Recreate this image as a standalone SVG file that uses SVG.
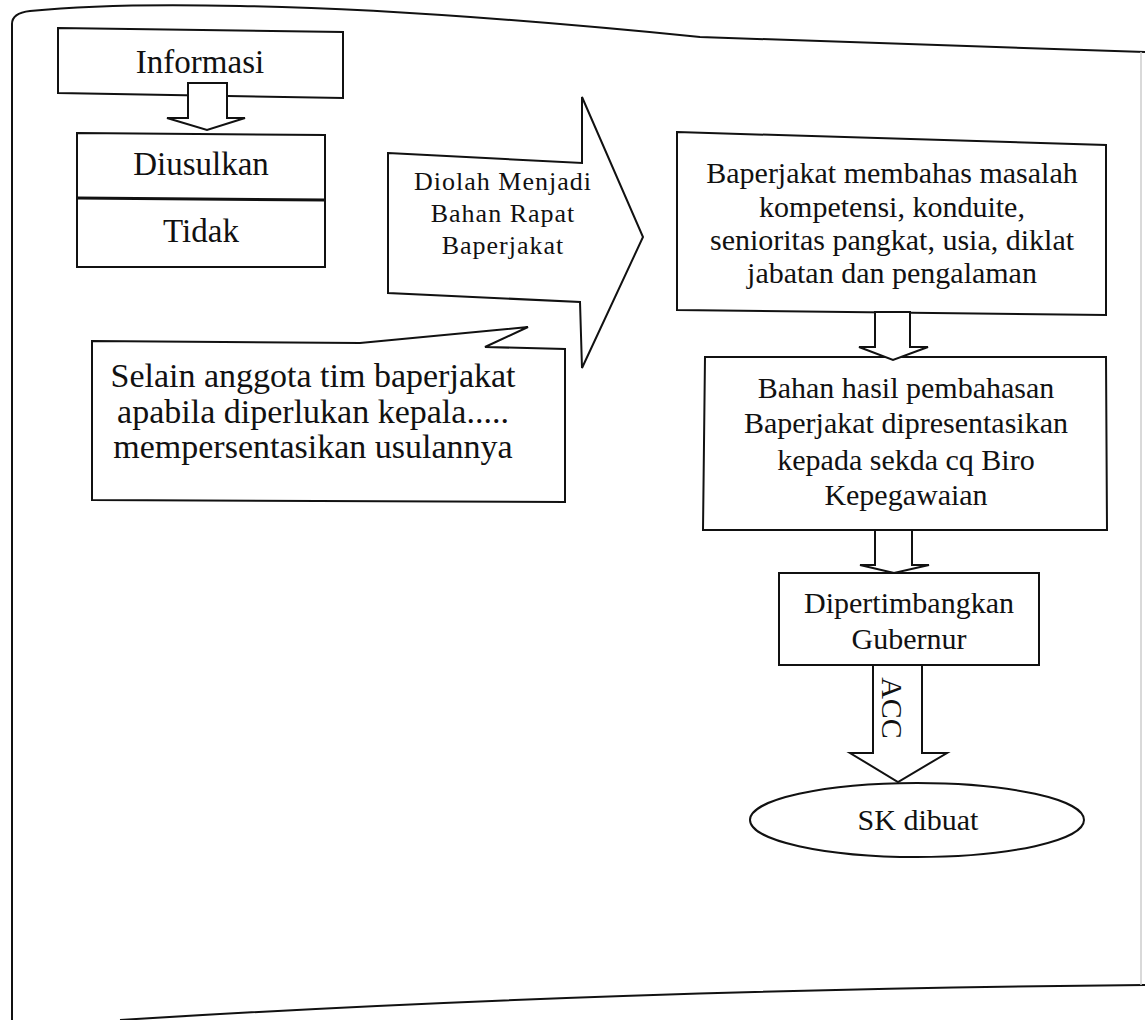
<svg xmlns="http://www.w3.org/2000/svg" width="1145" height="1020" viewBox="0 0 1145 1020">
<style>
.s{fill:#fff;stroke:#111;stroke-width:2;stroke-linejoin:miter}
.t{font-family:"Liberation Serif","Times New Roman",serif;fill:#111;text-anchor:middle}
.f{fill:none;stroke:#111;stroke-width:2}
</style>
<rect width="1145" height="1020" fill="#fff"/>
<g id="frame">
<path class="f" d="M12,1020 L12,24 Q12,13 30,11 Q110,3 240,6 Q420,9 700,37 L1145,52"/>
<path class="f" d="M120,1020 Q600,990 1145,985"/>
<path d="M1141,52 L1141,985" fill="none" stroke="#ccc" stroke-width="1.5"/>
</g>
<g id="informasi">
<polygon class="s" points="58,28 343,32 343,98 58,93"/>
<text class="t" x="200" y="73" font-size="33">Informasi</text>
</g>
<g id="diusulkan-tidak">
<polygon class="s" points="77,133 325,135 325,267 77,267"/>
<line x1="77" y1="198" x2="325" y2="200" stroke="#111" stroke-width="3"/>
<text class="t" x="201" y="175" font-size="33">Diusulkan</text>
<text class="t" x="201" y="242" font-size="33">Tidak</text>
</g>
<g id="diolah">
<polygon class="s" points="388,153 582,163 582,97 643,237 582,368 580,302 388,293"/>
<text class="t" x="503" y="190" font-size="26" letter-spacing="1">Diolah Menjadi</text>
<text class="t" x="503" y="222" font-size="26" letter-spacing="1">Bahan Rapat</text>
<text class="t" x="503" y="254" font-size="26" letter-spacing="1">Baperjakat</text>
</g>
<g id="selain">
<polygon class="s" points="92,341 360,343 528,327 485,347 565,349 565,502 92,500"/>
<text class="t" x="313" y="387" font-size="34">Selain anggota tim baperjakat</text>
<text class="t" x="313" y="423" font-size="34">apabila diperlukan kepala.....</text>
<text class="t" x="313" y="458" font-size="34">mempersentasikan usulannya</text>
</g>
<g id="membahas">
<polygon class="s" points="677,132 1106,145 1106,315 677,310"/>
<text class="t" x="892" y="183" font-size="30">Baperjakat membahas masalah</text>
<text class="t" x="892" y="217" font-size="30">kompetensi, konduite,</text>
<text class="t" x="892" y="250" font-size="30">senioritas pangkat, usia, diklat</text>
<text class="t" x="892" y="283" font-size="30">jabatan dan pengalaman</text>
</g>
<g id="bahan-hasil">
<polygon class="s" points="705,357 1106,357 1107,530 703,530"/>
<text class="t" x="906" y="398" font-size="30">Bahan hasil pembahasan</text>
<text class="t" x="906" y="433" font-size="30">Baperjakat dipresentasikan</text>
<text class="t" x="906" y="470" font-size="30">kepada sekda cq Biro</text>
<text class="t" x="906" y="505" font-size="30">Kepegawaian</text>
</g>
<g id="dipertimbangkan">
<rect class="s" x="779" y="573" width="260" height="92"/>
<text class="t" x="909" y="613" font-size="30">Dipertimbangkan</text>
<text class="t" x="909" y="649" font-size="30">Gubernur</text>
</g>
<g id="sk-dibuat">
<ellipse class="s" cx="917" cy="820" rx="167" ry="37"/>
<text class="t" x="918" y="830" font-size="30">SK dibuat</text>
</g>
<g id="connectors">
<polygon class="s" points="188,83 227,83 227,118 245,118 207,130 167,118 188,118"/>
<polygon class="s" points="875,312 910,312 910,347 928,347 893,360 859,347 875,347"/>
<polygon class="s" points="875,530 912,530 912,565 929,565 894,573 860,565 875,565"/>
<polygon class="s" points="873,665 922,665 922,753 947,753 898,782 850,753 873,753"/>
<text class="t" transform="translate(882,708) rotate(90)" x="0" y="0" font-size="30">ACC</text>
</g>
</svg>
